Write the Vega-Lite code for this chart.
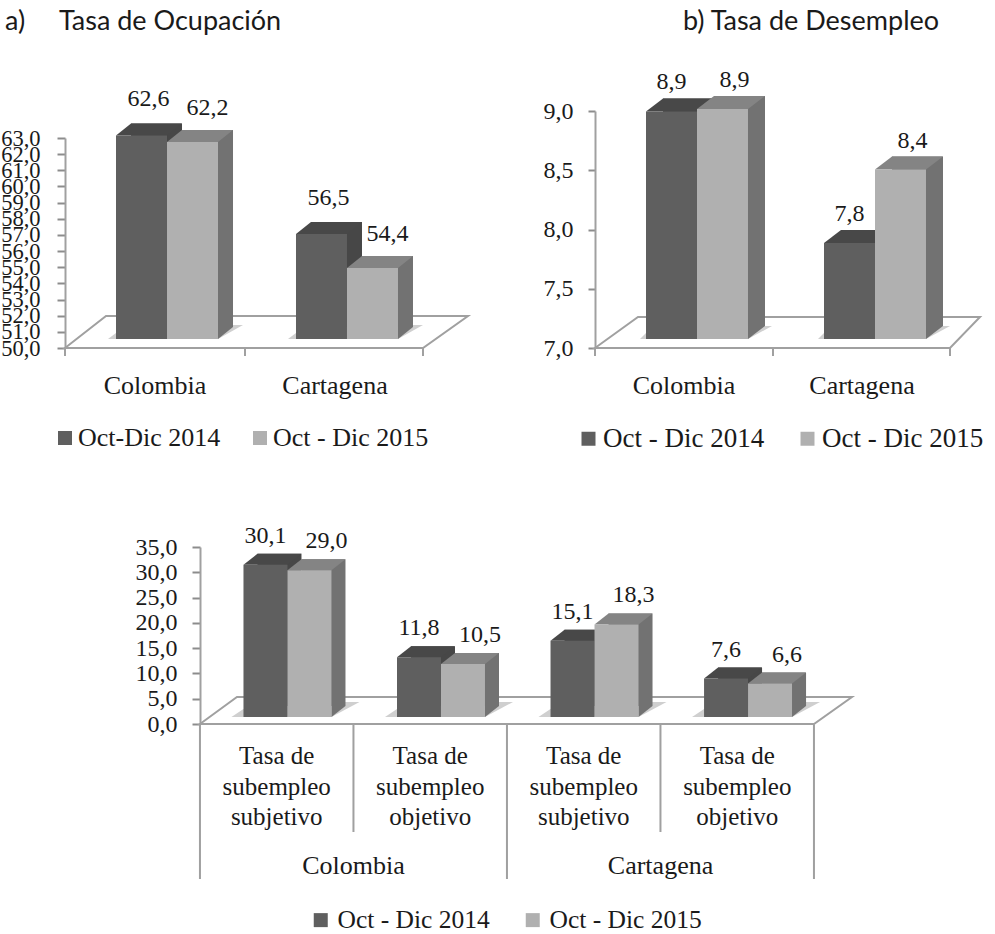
{"$schema":"https://vega.github.io/schema/vega-lite/v6.json","padding":0,"background":"white","bounds":"flush","columns":2,"spacing":{"column":100,"row":0},
"resolve":{"scale":{"color":"independent","xOffset":"independent"},"legend":{"color":"independent"}},
"config":{"view":{"stroke":null},"locale":{"number":{"decimal":",","thousands":".","grouping":[3],"currency":["","€"]}},"text":{"font":"Liberation Serif","fontSize":24,"color":"#1a1a1a"},"axis":{"labelFont":"Liberation Serif","labelColor":"#1a1a1a","title":null,"grid":false},"legend":{"labelFont":"Liberation Serif","labelColor":"#1a1a1a","labelLimit":400},"title":{"font":"Lato","fontSize":27,"fontWeight":"normal","color":"#1a1a1a","anchor":"start","frame":"group","offset":0}},
"datasets":{
"a":[{"grupo":"Colombia","periodo":"Oct-Dic 2014","valor":62.6},{"grupo":"Colombia","periodo":"Oct - Dic 2015","valor":62.2},{"grupo":"Cartagena","periodo":"Oct-Dic 2014","valor":56.5},{"grupo":"Cartagena","periodo":"Oct - Dic 2015","valor":54.4}],
"b":[{"grupo":"Colombia","periodo":"Oct - Dic 2014","valor":8.92},{"grupo":"Colombia","periodo":"Oct - Dic 2015","valor":8.94},{"grupo":"Cartagena","periodo":"Oct - Dic 2014","valor":7.81},{"grupo":"Cartagena","periodo":"Oct - Dic 2015","valor":8.43}],
"c":[{"clave":"Colombia subjetivo","grupo":"Colombia","tipo":"Tasa de\nsubempleo\nsubjetivo","periodo":"Oct - Dic 2014","valor":30.1},{"clave":"Colombia subjetivo","grupo":"Colombia","tipo":"Tasa de\nsubempleo\nsubjetivo","periodo":"Oct - Dic 2015","valor":29.0},{"clave":"Colombia objetivo","grupo":"Colombia","tipo":"Tasa de\nsubempleo\nobjetivo","periodo":"Oct - Dic 2014","valor":11.8},{"clave":"Colombia objetivo","grupo":"Colombia","tipo":"Tasa de\nsubempleo\nobjetivo","periodo":"Oct - Dic 2015","valor":10.5},{"clave":"Cartagena subjetivo","grupo":"Cartagena","tipo":"Tasa de\nsubempleo\nsubjetivo","periodo":"Oct - Dic 2014","valor":15.1},{"clave":"Cartagena subjetivo","grupo":"Cartagena","tipo":"Tasa de\nsubempleo\nsubjetivo","periodo":"Oct - Dic 2015","valor":18.3},{"clave":"Cartagena objetivo","grupo":"Cartagena","tipo":"Tasa de\nsubempleo\nobjetivo","periodo":"Oct - Dic 2014","valor":7.6},{"clave":"Cartagena objetivo","grupo":"Cartagena","tipo":"Tasa de\nsubempleo\nobjetivo","periodo":"Oct - Dic 2015","valor":6.6}]
},
"concat":[
{"width":495,"height":348,"data":{"name":"a"},
"title":{"text":"a)\u00a0\u00a0\u00a0\u00a0 Tasa de Ocupación","dx":5,"dy":40},
"resolve":{"axis":{"y":"independent"},"scale":{"xOffset":"independent"}},
"encoding":{"x":{"field":"grupo","type":"nominal","sort":["Colombia","Cartagena"],"scale":{"range":[77,437],"paddingInner":0.4333,"paddingOuter":0.2167},"axis":{"domain":false,"ticks":false,"labelAngle":0,"labelFontSize":26,"labelPadding":24,"labelOffset":-12}}},
"layer":[
{"transform":[{"filter":"datum.grupo=='Colombia' && indexof(datum.periodo,'2014')>=0"}],"mark":{"type":"point","size":4,"filled":false,"fill":"white","stroke":"#a0a0a0","strokeWidth":2,"opacity":1,"shape":"M-102,0L-61,-32L301,-32L256,0Z M-102,0V8 M78,0V8 M256,0V8"},"encoding":{"y":{"datum":50,"type":"quantitative","axis":null,"scale":{"domain":[50,63],"range":[348,138],"zero":false,"nice":false}}}},
{"transform":[{"filter":"indexof(datum.periodo,'2015')>=0"}],"mark":{"type":"point","size":4,"filled":true,"fill":"#cfcfcf","strokeWidth":0,"opacity":1,"yOffset":-9,"shape":"M-59,0L51,0L76,-14L60,-14L-51,-6Z"},"encoding":{"y":{"datum":50,"type":"quantitative","axis":null}}},
{"mark":{"type":"bar","yOffset":-21,"y2Offset":-21},"encoding":{"xOffset":{"field":"periodo","sort":["Oct-Dic 2014","Oct - Dic 2015"],"scale":{"range":[15,117]}},"y":{"field":"valor","type":"quantitative","stack":null,"axis":{"tickSize":8,"tickColor":"#8c8c8c","tickWidth":2,"domainColor":"#a0a0a0","domainWidth":2,"offset":-65,"values":[50,51,52,53,54,55,56,57,58,59,60,61,62,63],"labelOverlap":false,"format":".1f","labelFontSize":22.5,"labelPadding":17}},"y2":{"datum":50},"color":{"condition":{"test":"indexof(datum.periodo,'2014')>=0","value":"#474747"},"value":"#727272"}}},
{"mark":{"type":"point","size":4,"filled":true,"strokeWidth":0,"opacity":1,"yOffset":-9,"shape":"M25.5,0L40.5,-12L25.5,-12Z"},"encoding":{"xOffset":{"field":"periodo","sort":["Oct-Dic 2014","Oct - Dic 2015"]},"y":{"datum":50,"type":"quantitative","axis":null},"color":{"condition":{"test":"indexof(datum.periodo,'2014')>=0","value":"#474747"},"value":"#727272"}}},
{"mark":{"type":"point","size":4,"filled":true,"strokeWidth":0,"opacity":1,"yOffset":-9,"shape":"M-25.5,0L-10.5,-12L40.5,-12L25.5,0Z"},"encoding":{"xOffset":{"field":"periodo","sort":["Oct-Dic 2014","Oct - Dic 2015"]},"y":{"field":"valor","type":"quantitative","axis":null},"color":{"condition":{"test":"indexof(datum.periodo,'2014')>=0","value":"#484848"},"value":"#848484"}}},
{"mark":{"type":"bar","yOffset":-9,"y2Offset":-9},"encoding":{"xOffset":{"field":"periodo","sort":["Oct-Dic 2014","Oct - Dic 2015"]},"y":{"field":"valor","type":"quantitative","stack":null,"axis":null},"y2":{"datum":50},"color":{"field":"periodo","type":"nominal","sort":["Oct-Dic 2014","Oct - Dic 2015"],"scale":{"domain":["Oct-Dic 2014","Oct - Dic 2015"],"range":["#5f5f5f","#b0b0b0"]},"legend":{"orient":"none","legendX":52,"legendY":425,"direction":"horizontal","title":null,"symbolType":"square","symbolSize":196,"symbolStrokeWidth":0,"labelFontSize":26,"labelOffset":0,"columnPadding":26,"gridAlign":"each"}}}},
{"transform":[{"filter":"indexof(datum.periodo,'2014')>=0"}],"mark":{"type":"text","baseline":"middle","dx":7,"dy":-45},"encoding":{"xOffset":{"field":"periodo","scale":{"domain":["Oct-Dic 2014","Oct - Dic 2015"]}},"y":{"field":"valor","type":"quantitative","axis":null},"text":{"field":"valor","type":"quantitative","format":".1f"}}},
{"transform":[{"filter":"indexof(datum.periodo,'2015')>=0"}],"mark":{"type":"text","baseline":"middle","dx":15,"dy":-43},"encoding":{"xOffset":{"field":"periodo","scale":{"domain":["Oct-Dic 2014","Oct - Dic 2015"]}},"y":{"field":"valor","type":"quantitative","axis":null},"text":{"field":"valor","type":"quantitative","format":".1f"}}}
]},
{"width":387,"height":348,"data":{"name":"b"},
"title":{"text":"b) Tasa de Desempleo","dx":88,"dy":40},
"resolve":{"axis":{"y":"independent"},"scale":{"xOffset":"independent"}},
"encoding":{"x":{"field":"grupo","type":"nominal","sort":["Colombia","Cartagena"],"scale":{"range":[13,369],"paddingInner":0.427,"paddingOuter":0.2135},"axis":{"domain":false,"ticks":false,"labelAngle":0,"labelFontSize":26,"labelPadding":24,"labelOffset":-13}}},
"layer":[
{"transform":[{"filter":"datum.grupo=='Colombia' && indexof(datum.periodo,'2014')>=0"}],"mark":{"type":"point","size":4,"filled":false,"fill":"white","stroke":"#a0a0a0","strokeWidth":2,"opacity":1,"shape":"M-102,0L-59,-31L283,-31L253,0Z M-102,0V8 M76,0V8 M253,0V8"},"encoding":{"y":{"datum":7,"type":"quantitative","axis":null,"scale":{"domain":[7,9],"range":[348,111],"zero":false,"nice":false}}}},
{"transform":[{"filter":"indexof(datum.periodo,'2015')>=0"}],"mark":{"type":"point","size":4,"filled":true,"fill":"#cfcfcf","strokeWidth":0,"opacity":1,"yOffset":-9,"shape":"M-57,0L51,0L75,-13L60,-13L-51,-6Z"},"encoding":{"y":{"datum":7,"type":"quantitative","axis":null}}},
{"mark":{"type":"bar","yOffset":-22,"y2Offset":-22},"encoding":{"xOffset":{"field":"periodo","sort":["Oct - Dic 2014","Oct - Dic 2015"],"scale":{"range":[17,119]}},"y":{"field":"valor","type":"quantitative","stack":null,"axis":{"tickSize":7,"tickColor":"#8c8c8c","tickWidth":2,"domainColor":"#a0a0a0","domainWidth":2,"values":[7,7.5,8,8.5,9],"format":".1f","labelFontSize":24,"labelPadding":15}},"y2":{"datum":7},"color":{"condition":{"test":"indexof(datum.periodo,'2014')>=0","value":"#474747"},"value":"#727272"}}},
{"mark":{"type":"point","size":4,"filled":true,"strokeWidth":0,"opacity":1,"yOffset":-9,"shape":"M25.5,0L42.5,-13L25.5,-13Z"},"encoding":{"xOffset":{"field":"periodo","sort":["Oct - Dic 2014","Oct - Dic 2015"]},"y":{"datum":7,"type":"quantitative","axis":null},"color":{"condition":{"test":"indexof(datum.periodo,'2014')>=0","value":"#474747"},"value":"#727272"}}},
{"mark":{"type":"point","size":4,"filled":true,"strokeWidth":0,"opacity":1,"yOffset":-9,"shape":"M-25.5,0L-8.5,-13L42.5,-13L25.5,0Z"},"encoding":{"xOffset":{"field":"periodo","sort":["Oct - Dic 2014","Oct - Dic 2015"]},"y":{"field":"valor","type":"quantitative","axis":null},"color":{"condition":{"test":"indexof(datum.periodo,'2014')>=0","value":"#484848"},"value":"#848484"}}},
{"mark":{"type":"bar","yOffset":-9,"y2Offset":-9},"encoding":{"xOffset":{"field":"periodo","sort":["Oct - Dic 2014","Oct - Dic 2015"]},"y":{"field":"valor","type":"quantitative","stack":null,"axis":null},"y2":{"datum":7},"color":{"field":"periodo","type":"nominal","scale":{"domain":["Oct - Dic 2014","Oct - Dic 2015"],"range":["#5f5f5f","#b0b0b0"]},"legend":{"orient":"none","legendX":-20,"legendY":425,"direction":"horizontal","title":null,"symbolType":"square","symbolSize":196,"symbolStrokeWidth":0,"labelFontSize":27,"labelOffset":1,"columnPadding":29,"gridAlign":"each"}}}},
{"transform":[{"filter":"indexof(datum.periodo,'2014')>=0"}],"mark":{"type":"text","baseline":"middle","dx":0,"dy":-38},"encoding":{"xOffset":{"field":"periodo","scale":{"domain":["Oct - Dic 2014","Oct - Dic 2015"]}},"y":{"field":"valor","type":"quantitative","axis":null},"text":{"field":"valor","type":"quantitative","format":".1f"}}},
{"transform":[{"filter":"indexof(datum.periodo,'2015')>=0"}],"mark":{"type":"text","baseline":"middle","dx":12,"dy":-38},"encoding":{"xOffset":{"field":"periodo","scale":{"domain":["Oct - Dic 2014","Oct - Dic 2015"]}},"y":{"field":"valor","type":"quantitative","axis":null},"text":{"field":"valor","type":"quantitative","format":".1f"}}}
]},
{"width":495,"height":376,"data":{"name":"c"},
"resolve":{"axis":{"y":"independent"},"scale":{"xOffset":"independent"}},
"encoding":{"x":{"field":"clave","type":"nominal","sort":["Colombia subjetivo","Colombia objetivo","Cartagena subjetivo","Cartagena objetivo"],"scale":{"range":[210.7,824.8],"paddingInner":0.427,"paddingOuter":0.2135},"axis":null}},
"layer":[
{"transform":[{"filter":"datum.clave=='Colombia subjetivo' && indexof(datum.periodo,'2014')>=0"}],"mark":{"type":"point","size":4,"filled":false,"fill":"white","stroke":"#a0a0a0","strokeWidth":2,"opacity":1,"shape":"M-87.5,0L-50.5,-27L564.5,-27L526.5,0Z M-87.5,0V155 M66,0V108 M219.5,0V155 M373,0V108 M526.5,0V155"},"encoding":{"y":{"datum":0,"type":"quantitative","axis":null,"scale":{"domain":[0,35],"range":[376,199],"zero":false,"nice":false}}}},
{"transform":[{"filter":"indexof(datum.periodo,'2015')>=0"}],"mark":{"type":"point","size":4,"filled":true,"fill":"#cfcfcf","strokeWidth":0,"opacity":1,"yOffset":-7,"shape":"M-56,0L44,0L72,-15L58,-15L-44,-8Z"},"encoding":{"y":{"datum":0,"type":"quantitative","axis":null}}},
{"mark":{"type":"bar","yOffset":-18,"y2Offset":-18},"encoding":{"xOffset":{"field":"periodo","sort":["Oct - Dic 2014","Oct - Dic 2015"],"scale":{"range":[14,102]}},"y":{"field":"valor","type":"quantitative","stack":null,"axis":{"tickSize":8,"tickColor":"#8c8c8c","tickWidth":2,"domainColor":"#a0a0a0","domainWidth":2,"offset":-200,"values":[0,5,10,15,20,25,30,35],"format":".1f","labelFontSize":24,"labelPadding":15}},"y2":{"datum":0},"color":{"condition":{"test":"indexof(datum.periodo,'2014')>=0","value":"#474747"},"value":"#727272"}}},
{"mark":{"type":"point","size":4,"filled":true,"strokeWidth":0,"opacity":1,"yOffset":-7,"shape":"M22,0L36,-11L22,-11Z"},"encoding":{"xOffset":{"field":"periodo","sort":["Oct - Dic 2014","Oct - Dic 2015"]},"y":{"datum":0,"type":"quantitative","axis":null},"color":{"condition":{"test":"indexof(datum.periodo,'2014')>=0","value":"#474747"},"value":"#727272"}}},
{"mark":{"type":"point","size":4,"filled":true,"strokeWidth":0,"opacity":1,"yOffset":-7,"shape":"M-22,0L-8,-11L36,-11L22,0Z"},"encoding":{"xOffset":{"field":"periodo","sort":["Oct - Dic 2014","Oct - Dic 2015"]},"y":{"field":"valor","type":"quantitative","axis":null},"color":{"condition":{"test":"indexof(datum.periodo,'2014')>=0","value":"#484848"},"value":"#848484"}}},
{"mark":{"type":"bar","yOffset":-7,"y2Offset":-7},"encoding":{"xOffset":{"field":"periodo","sort":["Oct - Dic 2014","Oct - Dic 2015"]},"y":{"field":"valor","type":"quantitative","stack":null,"axis":null},"y2":{"datum":0},"color":{"field":"periodo","type":"nominal","scale":{"domain":["Oct - Dic 2014","Oct - Dic 2015"],"range":["#5f5f5f","#b0b0b0"]},"legend":{"orient":"none","legendX":308,"legendY":559,"direction":"horizontal","title":null,"symbolType":"square","symbolSize":196,"symbolStrokeWidth":0,"labelFontSize":25.5,"labelOffset":4,"columnPadding":30,"gridAlign":"each"}}}},
{"transform":[{"filter":"indexof(datum.periodo,'2014')>=0"}],"mark":{"type":"text","baseline":"middle","dx":0,"dy":-36},"encoding":{"xOffset":{"field":"periodo","scale":{"domain":["Oct - Dic 2014","Oct - Dic 2015"]}},"y":{"field":"valor","type":"quantitative","axis":null},"text":{"field":"valor","type":"quantitative","format":".1f"}}},
{"transform":[{"filter":"indexof(datum.periodo,'2015')>=0"}],"mark":{"type":"text","baseline":"middle","dx":17,"dy":-36},"encoding":{"xOffset":{"field":"periodo","scale":{"domain":["Oct - Dic 2014","Oct - Dic 2015"]}},"y":{"field":"valor","type":"quantitative","axis":null},"text":{"field":"valor","type":"quantitative","format":".1f"}}},
{"transform":[{"filter":"indexof(datum.periodo,'2014')>=0"}],"mark":{"type":"text","baseline":"middle","lineBreak":"\n","lineHeight":30.5,"fontSize":25,"dx":-10.75,"dy":32},"encoding":{"y":{"datum":0,"type":"quantitative","axis":null},"text":{"field":"tipo","type":"nominal"}}},
{"transform":[{"filter":"indexof(datum.periodo,'2014')>=0 && indexof(datum.clave,'subjetivo')>=0"}],"mark":{"type":"text","baseline":"middle","fontSize":26,"dx":66,"dy":142},"encoding":{"y":{"datum":0,"type":"quantitative","axis":null},"text":{"field":"grupo","type":"nominal"}}}
]}
]}
